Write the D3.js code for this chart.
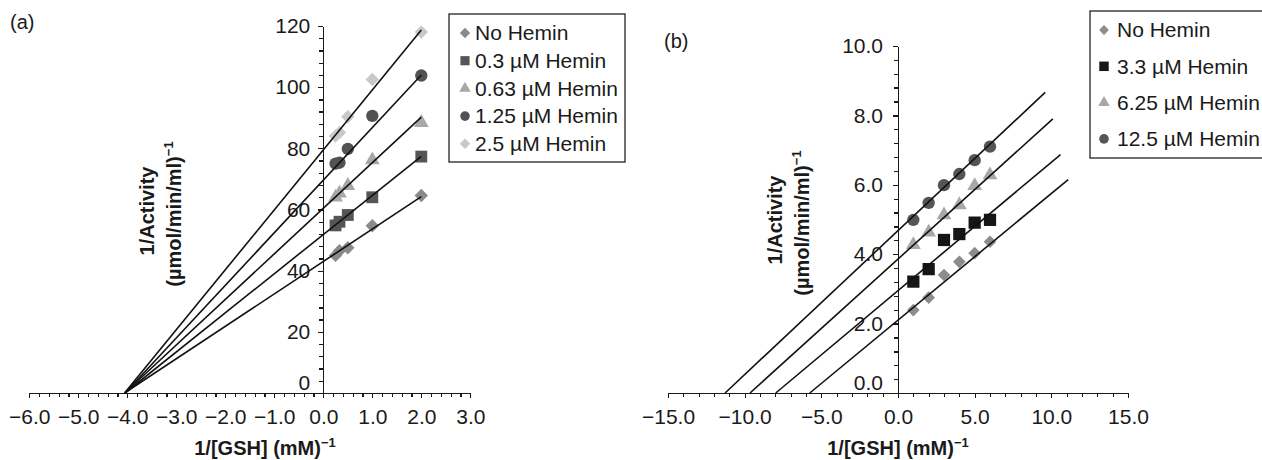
<!DOCTYPE html>
<html>
<head>
<meta charset="utf-8">
<script src="https://cdn.jsdelivr.net/npm/d3@7"></script>
<style>
  body { margin: 0; background: #fff; }
  svg { font-family: "Liberation Sans", Arial, sans-serif; }
  .axis path, .axis line { stroke: #1a1a1a; stroke-width: 1.3; shape-rendering: crispEdges; }
  .axis text { font-size: 21px; fill: #1a1a1a; }
  .fit { fill: none; stroke: #111; stroke-width: 1.6; }
  .title { font-size: 20px; font-weight: bold; fill: #1a1a1a; }
  .legend text { font-size: 21px; fill: #1a1a1a; }
</style>
</head>
<body>
<svg id="chart" width="1262" height="460"></svg>
<script>
// ---- panel (a) values ----
var aX = [0.25, 0.33, 0.5, 1, 2];
var aNames = ["No Hemin", "0.3 µM Hemin", "0.63 µM Hemin", "1.25 µM Hemin", "2.5 µM Hemin"];
var aNoHemin = [45.0, 46.5, 47.5, 54.7, 64.6];
var a03 = [54.8, 56.0, 58.2, 64.0, 77.3];
var a063 = [64.0, 65.3, 67.8, 76.2, 88.4];
var a125 = [75.0, 75.3, 79.8, 90.6, 103.8];
var a25 = [84.0, 85.2, 90.3, 102.5, 118.0];
// fitted lines (intercept, slope), drawn from the x-intercept up to aFitEnd
var aFitIntercept = [43.0, 51.8, 60.4, 69.6, 79.5];
var aFitSlope = [10.6, 12.8, 14.9, 17.2, 19.6];
var aFitEnd = [2.0, 2.0, 2.0, 2.0, 2.0];
var aXTicks = [-6, -5, -4, -3, -2, -1, 0, 1, 2, 3];
var aYTicks = [0, 20, 40, 60, 80, 100, 120];

// ---- panel (b) values ----
var bX = [1, 2, 3, 4, 5, 6];
var bNames = ["No Hemin", "3.3 µM Hemin", "6.25 µM Hemin", "12.5 µM Hemin"];
var bNoHemin = [2.39, 2.75, 3.40, 3.78, 4.03, 4.36];
var b33 = [3.21, 3.57, 4.41, 4.58, 4.91, 4.99];
var b625 = [4.27, 4.63, 5.13, 5.42, 5.97, 6.28];
var b125 = [4.99, 5.48, 5.99, 6.31, 6.71, 7.10];
var bFitIntercept = [2.10, 2.95, 3.86, 4.68];
var bFitSlope = [0.365, 0.37, 0.40, 0.415];
var bFitEnd = [11.1, 10.6, 10.1, 9.6];
var bXTicks = [-15, -10, -5, 0, 5, 10, 15];
var bYTicks = [0, 2, 4, 6, 8, 10];

var svg = d3.select("#chart");

// marker path for a given shape name
function marker(shape, size) {
  var type = shape == "circle" ? d3.symbolCircle
    : shape == "triangle" ? d3.symbolTriangle
    : d3.symbolSquare;
  return d3.symbol().type(type).size(size)();
}

function drawPanel(p) {
  var g = svg.append("g");

  // minor ticks first, then the major axis on top
  g.append("g")
    .attr("class", "axis")
    .attr("transform", "translate(0," + p.y(0) + ")")
    .call(d3.axisBottom(p.x).tickValues(p.xMinor).tickSize(4).tickFormat(""))
    .select(".domain").remove();
  g.append("g")
    .attr("class", "axis")
    .attr("transform", "translate(" + p.x(0) + ",0)")
    .call(d3.axisLeft(p.y).tickValues(p.yMinor).tickSize(4).tickFormat(""))
    .select(".domain").remove();

  g.append("g")
    .attr("class", "axis")
    .attr("transform", "translate(0," + p.y(0) + ")")
    .call(d3.axisBottom(p.x).tickValues(p.xTicks).tickSize(5).tickSizeOuter(0)
      .tickPadding(11).tickFormat(d3.format(".1f")));

  var yAxis = g.append("g")
    .attr("class", "axis")
    .attr("transform", "translate(" + p.x(0) + ",0)")
    .call(d3.axisLeft(p.y).tickValues(p.yTicks).tickSize(5).tickSizeOuter(0)
      .tickPadding(p.yPad).tickFormat(d3.format(p.yFmt)));
  // the zero label sits a little above the x axis
  yAxis.selectAll(".tick text").filter(function(d) { return d === 0; })
    .attr("y", -10);

  // data points
  p.series.forEach(function(s) {
    g.selectAll(null)
      .data(p.xs.map(function(xv, i) { return {x: xv, y: s.values[i]}; }))
      .enter()
      .append("path")
        .attr("d", marker(s.shape, s.size))
        .attr("fill", s.color)
        .attr("transform", function(d) {
          return "translate(" + p.x(d.x) + "," + p.y(d.y) + ")" + (s.diamond ? " rotate(45)" : "");
        });
  });

  // fitted lines
  var line = d3.line()
    .x(function(d) { return p.x(d[0]); })
    .y(function(d) { return p.y(d[1]); });
  p.intercept.forEach(function(b, i) {
    var m = p.slope[i];
    g.append("path")
      .datum([[-b / m, 0], [p.end[i], b + m * p.end[i]]])
      .attr("class", "fit")
      .attr("d", line);
  });

  // legend
  var lg = g.append("g").attr("class", "legend");
  lg.append("rect")
    .attr("x", p.legend.x).attr("y", p.legend.y)
    .attr("width", p.legend.w).attr("height", p.legend.h)
    .attr("fill", "#fff").attr("stroke", "#222").attr("stroke-width", 1.3);
  var item = lg.selectAll(".item")
    .data(p.series)
    .enter()
    .append("g")
      .attr("transform", function(d, i) {
        return "translate(" + p.legend.mx + "," + (p.legend.y0 + i * p.legend.dy) + ")";
      });
  item.append("path")
    .attr("d", function(d) { return marker(d.shape, d.size * 0.6); })
    .attr("fill", function(d) { return d.color; })
    .attr("transform", function(d) { return d.diamond ? "rotate(45)" : null; });
  item.append("text")
    .attr("x", p.legend.tx)
    .attr("dy", "0.35em")
    .text(function(d) { return d.name; });

  // axis titles
  var xt = g.append("text")
    .attr("class", "title")
    .attr("x", p.xTitle[0]).attr("y", p.xTitle[1])
    .attr("text-anchor", "middle")
    .text("1/[GSH] (mM)");
  xt.append("tspan").attr("dy", -8).attr("font-size", "13px").text("−1");

  g.append("text")
    .attr("class", "title")
    .attr("transform", "translate(" + p.yTitle[0] + "," + p.yTitle[2] + ") rotate(-90)")
    .attr("text-anchor", "middle")
    .text("1/Activity");
  var yt = g.append("text")
    .attr("class", "title")
    .attr("transform", "translate(" + p.yTitle[1] + "," + (p.yTitle[2] + 3) + ") rotate(-90)")
    .attr("text-anchor", "middle")
    .text("(µmol/min/ml)");
  yt.append("tspan").attr("dy", -8).attr("font-size", "13px").text("−1");

  g.append("text")
    .attr("x", p.tag[0]).attr("y", p.tag[1])
    .attr("font-size", "20px").attr("fill", "#1a1a1a")
    .text(p.tag[2]);
}

// panel (a)
var ax = d3.scaleLinear().domain([-6, 3]).range([29.3, 470.3]);
var ay = d3.scaleLinear().domain([0, 120]).range([393, 26]);
drawPanel({
  x: ax, y: ay, xs: aX,
  xTicks: aXTicks, yTicks: aYTicks,
  xMinor: d3.range(-6, 3.001, 0.2), yMinor: d3.range(0, 120.1, 4),
  yFmt: "d", yPad: 8,
  series: [
    {name: aNames[0], values: aNoHemin, shape: "square", diamond: true, size: 90, color: "#8a8a8a"},
    {name: aNames[1], values: a03, shape: "square", size: 140, color: "#555555"},
    {name: aNames[2], values: a063, shape: "triangle", size: 95, color: "#a8a8a8"},
    {name: aNames[3], values: a125, shape: "circle", size: 120, color: "#525252"},
    {name: aNames[4], values: a25, shape: "square", diamond: true, size: 90, color: "#c8c8c8"}
  ],
  intercept: aFitIntercept, slope: aFitSlope, end: aFitEnd,
  legend: {x: 449, y: 14, w: 176, h: 148, mx: 465, tx: 10, y0: 33, dy: 27.7},
  xTitle: [265, 455],
  yTitle: [154, 181, 211],
  tag: [10, 29, "(a)"]
});

// panel (b)
var bx = d3.scaleLinear().domain([-15, 15]).range([668, 1128]);
var by = d3.scaleLinear().domain([0, 10]).range([393, 46]);
drawPanel({
  x: bx, y: by, xs: bX,
  xTicks: bXTicks, yTicks: bYTicks,
  xMinor: d3.range(-15, 15.1, 1), yMinor: d3.range(0, 10.01, 0.4),
  yFmt: ".1f", yPad: 10,
  series: [
    {name: bNames[0], values: bNoHemin, shape: "square", diamond: true, size: 80, color: "#8c8c8c"},
    {name: bNames[1], values: b33, shape: "square", size: 150, color: "#161616"},
    {name: bNames[2], values: b625, shape: "triangle", size: 95, color: "#a8a8a8"},
    {name: bNames[3], values: b125, shape: "circle", size: 120, color: "#555555"}
  ],
  intercept: bFitIntercept, slope: bFitSlope, end: bFitEnd,
  legend: {x: 1090, y: 11, w: 190, h: 147, mx: 1104, tx: 13, y0: 30, dy: 36.3},
  xTitle: [898, 455],
  yTitle: [782, 809, 220],
  tag: [664, 48, "(b)"]
});
</script>
</body>
</html>
